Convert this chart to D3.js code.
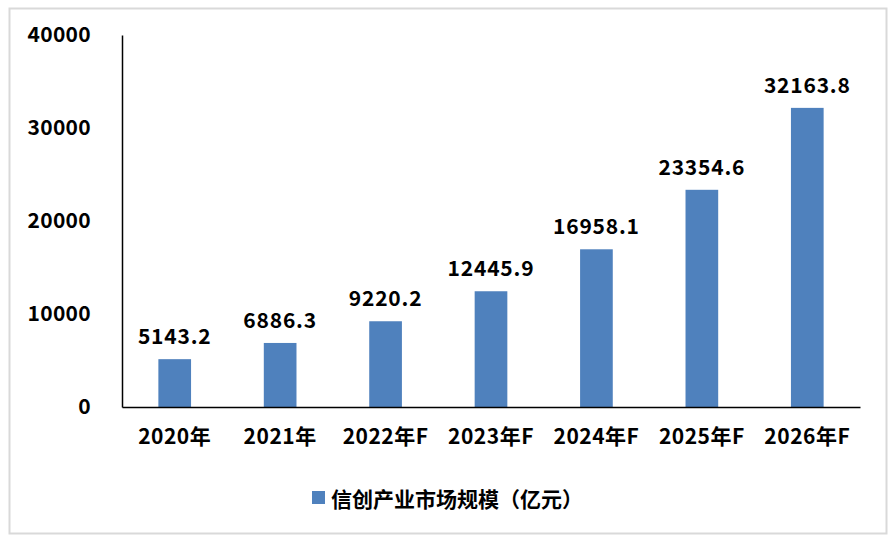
<!DOCTYPE html>
<html><head><meta charset="utf-8">
<script src="https://cdn.jsdelivr.net/npm/d3@7/dist/d3.min.js"></script>
<style>body{margin:0;background:#fff}svg{display:block}text{font-family:"Noto Sans CJK SC","Microsoft YaHei",sans-serif;font-weight:bold;fill:#000}</style>
</head><body>
<script>
const categories = ["2020年","2021年","2022年F","2023年F","2024年F","2025年F","2026年F"];
const values = [5143.2,6886.3,9220.2,12445.9,16958.1,23354.6,32163.8];
const yTicks = [0,10000,20000,30000,40000];
const seriesName = "信创产业市场规模（亿元）";

const W=893,H=540;
const svg=d3.select("body").append("svg").attr("width",W).attr("height",H);
svg.append("rect").attr("x",9.5).attr("y",8.5).attr("width",877).attr("height",525)
  .attr("fill","#fff").attr("stroke","#d9d9d9").attr("stroke-width",2);

const x=d3.scaleBand().domain(categories).range([122,860]).padding(0);
const y=d3.scaleLinear().domain([0,40000]).range([407,35]);
const barW=x.bandwidth()*0.31;
const color="#4f81bd";

svg.selectAll("rect.bar").data(values).join("rect").attr("class","bar")
  .attr("x",(d,i)=>x(categories[i])+x.bandwidth()/2-barW/2)
  .attr("y",d=>y(d)).attr("width",barW).attr("height",d=>y(0)-y(d)).attr("fill",color);

svg.selectAll("text.val").data(values).join("text").attr("class","val")
  .attr("x",(d,i)=>x(categories[i])+x.bandwidth()/2).attr("y",d=>y(d)-24)
  .attr("text-anchor","middle").attr("dominant-baseline","central").attr("font-size",21)
  .attr("letter-spacing",0.8)
  .text(d=>d.toFixed(1));

// y axis
const ya=svg.append("g").attr("transform","translate(122,0)")
  .call(d3.axisLeft(y).tickValues(yTicks).tickSize(0).tickPadding(31).tickFormat(d3.format("d")));
ya.select(".domain").attr("stroke","#000").attr("stroke-width",1.5);
ya.selectAll("text").attr("font-size",21).attr("font-family","\"Noto Sans CJK SC\",sans-serif").attr("font-weight","bold").attr("fill","#000").attr("letter-spacing",0.3);

// x axis
const xa=svg.append("g").attr("transform","translate(0,407)")
  .call(d3.axisBottom(x).tickSize(0).tickPadding(22));
xa.select(".domain").attr("stroke","#000").attr("stroke-width",1.5);
xa.selectAll("text").attr("font-size",21).attr("font-family","\"Noto Sans CJK SC\",sans-serif").attr("font-weight","bold").attr("fill","#000").attr("letter-spacing",0.5);

// legend
const lg=svg.append("g");
lg.append("rect").attr("x",312).attr("y",491).attr("width",13).attr("height",13).attr("fill",color);
lg.append("text").attr("x",331).attr("y",497.5).attr("dominant-baseline","central")
  .attr("font-size",21).text(seriesName);
</script>
</body></html>
